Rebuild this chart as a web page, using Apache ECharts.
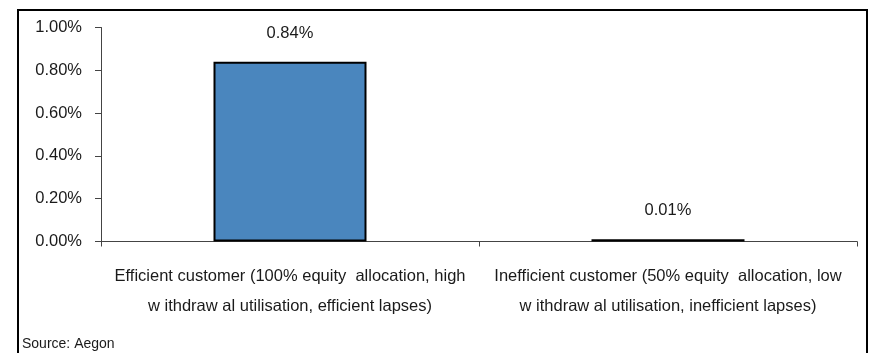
<!DOCTYPE html>
<html>
<head>
<meta charset="utf-8">
<script src="https://cdn.jsdelivr.net/npm/echarts@6/dist/echarts.min.js"></script>
<style>
html,body{margin:0;padding:0;background:#fff;}
#chart{width:870px;height:353px;}
</style>
</head>
<body>
<div id="chart"></div>
<script>
var categories = [
  "Efficient customer (100% equity  allocation, high\nw ithdraw al utilisation, efficient lapses)",
  "Inefficient customer (50% equity  allocation, low\nw ithdraw al utilisation, inefficient lapses)"
];
var values = [0.84, 0.01];
var yTicks = [0, 0.2, 0.4, 0.6, 0.8, 1.0];
var sourceText = "Source: Aegon";

var FONT = "'Liberation Sans', Arial, sans-serif";
var chart = echarts.init(document.getElementById('chart'));
chart.setOption({
  animation: false,
  backgroundColor: '#ffffff',
  grid: { left: 101, right: 13, top: 27.5, bottom: 111.5, containLabel: false },
  xAxis: {
    type: 'category',
    data: categories,
    boundaryGap: true,
    axisLine: { show: true, lineStyle: { color: '#444', width: 1 } },
    axisTick: { show: true, alignWithLabel: false, length: 5, inside: false, lineStyle: { color: '#444' } },
    axisLabel: {
      interval: 0, margin: 20, color: '#1a1a1a',
      fontFamily: FONT, fontSize: 16.5, lineHeight: 30, align: 'center'
    },
    splitLine: { show: false }
  },
  yAxis: {
    type: 'value',
    min: yTicks[0], max: yTicks[yTicks.length - 1], interval: 0.2,
    axisLine: { show: true, lineStyle: { color: '#444', width: 1 } },
    axisTick: { show: true, length: 6, lineStyle: { color: '#444' } },
    axisLabel: {
      margin: 19, color: '#1a1a1a', fontFamily: FONT, fontSize: 16.5,
      formatter: function (v) { return v.toFixed(2) + '%'; }
    },
    splitLine: { show: false }
  },
  series: [{
    type: 'bar',
    data: values,
    barWidth: 153,
    itemStyle: { color: '#4a86be', borderColor: '#000', borderWidth: 2 },
    label: {
      show: true, position: 'top', distance: 20,
      color: '#1a1a1a', fontFamily: FONT, fontSize: 16.5,
      formatter: function (p) { return p.value.toFixed(2) + '%'; }
    }
  }],
  graphic: [
    { type: 'rect', shape: { x: 18, y: 10, width: 849, height: 360 },
      style: { fill: 'none', stroke: '#000', lineWidth: 2 }, silent: true },
    { type: 'text', left: 22, top: 337,
      style: { text: sourceText, fill: '#1a1a1a', font: '14px ' + FONT } }
  ]
});
</script>
</body>
</html>
